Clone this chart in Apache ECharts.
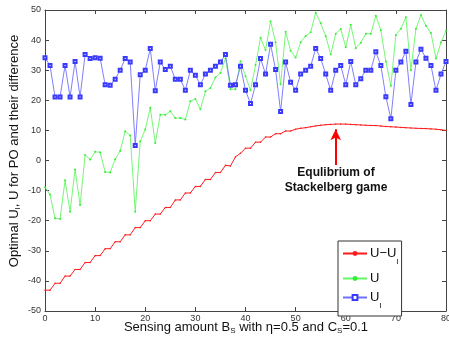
<!DOCTYPE html>
<html>
<head>
<meta charset="utf-8">
<script src="https://cdn.jsdelivr.net/npm/echarts@6/dist/echarts.min.js"></script>
<style>
  html, body { margin: 0; padding: 0; background: #fff; }
  #chart { width: 449px; height: 339px; }
</style>
</head>
<body>
<div id="chart"></div>
<script>
// x = sensing amount B_S, 0..80
const xs = Array.from({ length: 81 }, (_, i) => i);

const diffU = [
  -43.1, -43.1, -40.8, -40.8, -38.4, -38.4, -36.2, -36.2, -33.9, -33.9,
  -31.6, -31.6, -29.3, -29.3, -27.0, -27.0, -24.7, -24.7, -22.3, -22.3,
  -20.0, -20.0, -17.8, -17.8, -15.6, -15.6, -13.1, -13.1, -10.8, -10.8,
  -8.6, -8.6, -6.3, -6.3, -4.0, -4.0, -1.6, -1.8, 1.2, 2.4,
  4.1, 4.1, 6.1, 6.1, 7.8, 7.8, 8.9, 8.9, 9.8, 9.8,
  10.4, 10.7, 10.9, 11.2, 11.5, 11.7, 11.9, 12.0, 12.1, 12.1,
  12.1, 12.0, 11.9, 11.8, 11.7, 11.65, 11.6, 11.45, 11.3, 11.2,
  11.1, 11.0, 10.9, 10.8, 10.7, 10.65, 10.6, 10.5, 10.4, 10.2, 10.0
];

const uTotal = [
  -8.9, -11.3, -19.2, -19.4, -6.6, -17.0, -3.0, -14.8, 1.8, 0.3,
  2.9, 2.7, -3.8, -4.0, 0.4, 3.2, 9.7, 8.3, -17.0, 6.4,
  10.3, 17.5, 5.8, 15.2, 15.2, 16.4, 14.1, 14.1, 13.6, 19.7,
  20.4, 17.0, 23.0, 24.1, 27.6, 29.1, 33.9, 23.7, 23.7, 33.0,
  28.0, 23.3, 31.7, 40.8, 36.7, 46.3, 39.3, 25.3, 42.8, 36.5,
  34.2, 39.3, 41.4, 42.6, 49.1, 45.6, 41.3, 35.3, 42.1, 43.7,
  37.6, 45.1, 37.3, 39.1, 42.1, 42.1, 48.1, 43.3, 32.9, 24.8,
  41.7, 43.8, 47.6, 30.0, 43.8, 48.3, 44.8, 42.4, 33.9, 39.2, 43.1
];

const uI = [
  34.1, 31.6, 21.1, 21.1, 31.6, 21.1, 32.9, 21.1, 35.2, 33.9,
  34.1, 34.0, 25.2, 25.0, 27.0, 30.0, 33.9, 32.7, 5.0, 28.5,
  30.0, 37.2, 23.2, 32.7, 30.2, 31.3, 27.0, 27.0, 23.3, 30.0,
  28.3, 25.2, 28.7, 30.0, 31.3, 32.7, 35.2, 25.0, 25.2, 31.3,
  23.3, 18.9, 25.2, 33.9, 28.7, 38.6, 30.2, 16.3, 32.7, 26.0,
  23.3, 28.7, 30.0, 31.3, 37.2, 33.9, 28.7, 23.3, 30.0, 31.6,
  25.2, 32.9, 25.2, 27.2, 30.0, 30.0, 36.1, 31.6, 21.2, 13.9,
  30.0, 32.7, 36.3, 18.6, 32.7, 37.0, 34.0, 31.6, 23.3, 28.7, 32.9
];

const xTicks = [0, 10, 20, 30, 40, 50, 60, 70, 80];
const yTicks = [-50, -40, -30, -20, -10, 0, 10, 20, 30, 40, 50];

const chart = echarts.init(document.getElementById("chart"));
const font = "Liberation Sans, Arial, sans-serif";
const axisCol = "#444";
const rich = {
  sub: { fontSize: 8, verticalAlign: "bottom", padding: [0, 0, -6, 0], fontFamily: font, color: "#111" },
};

const pair = (arr) => xs.map((x, i) => [x, arr[i]]);

const tickBits = {
  axisLine: { show: true, onZero: false, lineStyle: { color: axisCol, width: 1 } },
  axisTick: { show: true, inside: true, length: 4, lineStyle: { color: axisCol } },
  splitLine: { show: false },
};

chart.setOption({
  animation: false,
  textStyle: { fontFamily: font },
  grid: { left: 45, right: 3, top: 10, bottom: 28, show: false, outerBoundsMode: "none", containLabel: false },
  legend: {
    left: 338,
    top: 241,
    orient: "vertical",
    itemWidth: 24,
    itemHeight: 6,
    itemGap: 6,
    padding: [6, 3, 6, 4],
    borderColor: "#333",
    borderWidth: 1,
    backgroundColor: "#fff",
    data: ["diff", "U", "UI"],
    formatter: (n) =>
      n === "diff" ? "U\u2212U{sub|I}" : n === "U" ? "U" : "U{sub|I}",
    textStyle: { fontSize: 13, color: "#111", fontFamily: font, rich, padding: [0, 0, 0, -2] },
  },
  xAxis: [
    {
      type: "value",
      min: xTicks[0],
      max: xTicks[xTicks.length - 1],
      interval: 10,
      ...tickBits,
      axisLabel: { fontSize: 9, color: "#333", margin: 3, fontFamily: font },
    },
    {
      type: "value",
      position: "top",
      min: xTicks[0],
      max: xTicks[xTicks.length - 1],
      interval: 10,
      ...tickBits,
      axisLabel: { show: false },
    },
  ],
  yAxis: [
    {
      type: "value",
      min: yTicks[0],
      max: yTicks[yTicks.length - 1],
      interval: 10,
      ...tickBits,
      axisLabel: { fontSize: 9, color: "#333", margin: 4, fontFamily: font },
    },
    {
      type: "value",
      position: "right",
      min: yTicks[0],
      max: yTicks[yTicks.length - 1],
      interval: 10,
      ...tickBits,
      axisLabel: { show: false },
    },
  ],
  graphic: [
    {
      type: "text",
      x: 14,
      y: 151,
      rotation: Math.PI / 2,
      style: {
        text: "Optimal U{sub|I}, U for PO and their difference",
        font: "13px " + font,
        fill: "#111",
        align: "center",
        verticalAlign: "middle",
        rich: { sub: { font: "8px " + font, fill: "#111", padding: [0, 0, -7, 0] } },
      },
    },
    {
      type: "text",
      x: 246,
      y: 327,
      style: {
        text: "Sensing amount B{sub|S} with \u03b7=0.5 and C{sub|S}=0.1",
        font: "13px " + font,
        fill: "#111",
        align: "center",
        verticalAlign: "middle",
        rich: { sub: { font: "8px " + font, fill: "#111", padding: [0, 0, -7, 0] } },
      },
    },
    {
      type: "text",
      x: 336,
      y: 180,
      style: {
        text: "Equlibrium of\nStackelberg game",
        font: "bold 12px " + font,
        lineHeight: 15,
        fill: "#111",
        align: "center",
        verticalAlign: "middle",
      },
    },
  ],
  series: [
    {
      name: "diff",
      type: "line",
      data: pair(diffU),
      symbol: "circle",
      symbolSize: 1.5,
      lineStyle: { color: "#ff1a1a", width: 1 },
      itemStyle: { color: "#ff1a1a" },
      markLine: {
        silent: true,
        symbol: ["none", "arrow"],
        symbolSize: [8, 11],
        lineStyle: { color: "#ff0000", width: 2, type: "solid" },
        label: { show: false },
        data: [[{ coord: [58, -1.5] }, { coord: [58, 10.4] }]],
      },
      z: 3,
    },
    {
      name: "U",
      type: "line",
      data: pair(uTotal),
      symbol: "circle",
      symbolSize: 2,
      lineStyle: { color: "#66f566", width: 0.9 },
      itemStyle: { color: "#33ee33" },
      z: 2,
    },
    {
      name: "UI",
      type: "line",
      data: pair(uI),
      symbol: "emptyRect",
      symbolSize: 3,
      lineStyle: { color: "#7070ff", width: 0.9 },
      itemStyle: { color: "#3a3aff", borderWidth: 0.9 },
      z: 2,
    },
  ],
});
</script>
</body>
</html>
